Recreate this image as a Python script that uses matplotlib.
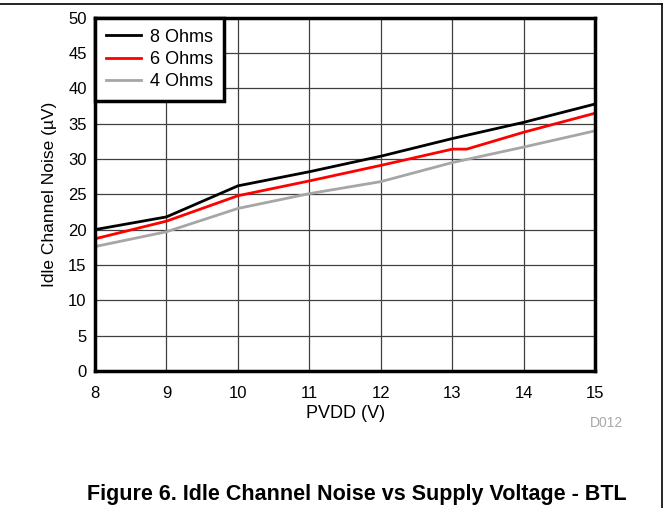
"""
Idle channel noise vs supply voltage (BTL) for three load impedances.
"""

import matplotlib
matplotlib.use('Agg')
import matplotlib.pyplot as plt
from matplotlib.lines import Line2D

plt.rcParams['font.family'] = ['Liberation Sans', 'DejaVu Sans']

# supply voltage points
pvdd_8 = [8, 9, 10, 11, 12, 13, 14, 15]
noise_8 = [20.0, 21.8, 26.2, 28.2, 30.4, 32.9, 35.2, 37.8]

pvdd_6 = [8, 9, 10, 11, 12, 13, 13.2, 14, 15]
noise_6 = [18.7, 21.2, 24.8, 26.9, 29.1, 31.4, 31.4, 33.8, 36.5]

pvdd_4 = [8, 9, 10, 11, 12, 13, 14, 15]
noise_4 = [17.6, 19.7, 23.0, 25.1, 26.8, 29.5, 31.7, 34.0]

labels = ['8 Ohms', '6 Ohms', '4 Ohms']
colors = ['#000000', '#ff0000', '#a6a6a6']

x_ticks = list(range(8, 16))
y_ticks = list(range(0, 55, 5))

fig = plt.figure(figsize=(6.69, 5.08), dpi=100)
ax = fig.add_axes([0.142, 0.270, 0.748, 0.695])

# plot the three curves
ax.plot(pvdd_8, noise_8, color=colors[0], lw=2, label=labels[0])
ax.plot(pvdd_6, noise_6, color=colors[1], lw=2, label=labels[1])
ax.plot(pvdd_4, noise_4, color=colors[2], lw=2, label=labels[2])

ax.set_xlim(8, 15)
ax.set_ylim(0, 50)
ax.set_xticks(x_ticks)
ax.set_yticks(y_ticks)
ax.tick_params(length=0, labelsize=12)
ax.tick_params(axis='x', pad=11)
ax.tick_params(axis='y', pad=6)
ax.grid(True, color='#404040', lw=0.9)
ax.set_axisbelow(True)
for sp in ax.spines.values():
    sp.set_linewidth(2.5)

ax.set_xlabel('PVDD (V)', fontsize=13, labelpad=3)
ax.set_ylabel('Idle Channel Noise (\u00b5V)', fontsize=12.5, labelpad=8)

leg = ax.legend(loc='upper left', fontsize=13, fancybox=False, framealpha=1,
                edgecolor='black', borderaxespad=0, handlelength=1.95,
                handletextpad=0.5, borderpad=0.6, labelspacing=0.3)
leg.get_frame().set_linewidth(2.5)

fig.text(0.931, 0.160, 'D012', fontsize=10, color='#a8a8a8', ha='right')
fig.text(0.534, 0.016, 'Figure 6. Idle Channel Noise vs Supply Voltage - BTL',
         fontsize=15.5, fontweight='bold', ha='center', va='baseline')

# page frame lines (top and right)
fig.add_artist(Line2D([0, 0.990], [0.992, 0.992], color='black', lw=1.2))
fig.add_artist(Line2D([0.990, 0.990], [0, 0.992], color='black', lw=1.2))

fig.savefig('out.png', dpi=100)
